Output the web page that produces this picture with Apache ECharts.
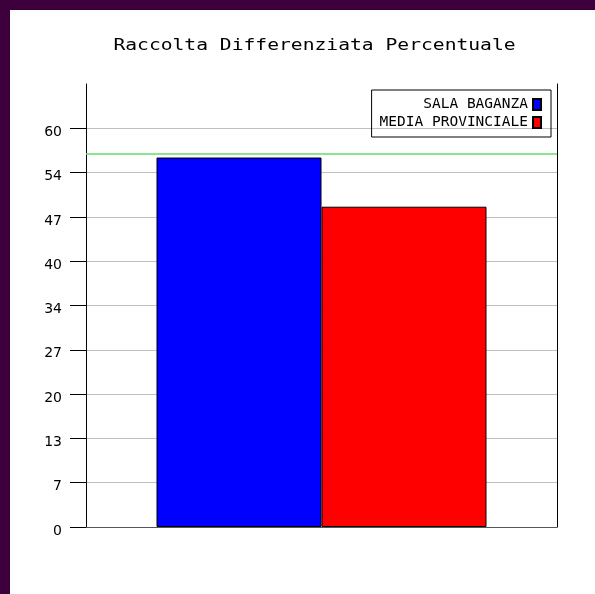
<!DOCTYPE html>
<html>
<head>
<meta charset="utf-8">
<script src="https://cdn.jsdelivr.net/npm/echarts@6/dist/echarts.min.js"></script>
<style>
html,body{margin:0;padding:0;background:#fff;}
#c{width:595px;height:594px;}
</style>
</head>
<body>
<div id="c"></div>
<script>
const titleText = 'Raccolta Differenziata Percentuale';
const categories = [''];
const seriesNames = ['SALA BAGANZA', 'MEDIA PROVINCIALE'];
const salaBaganza = [55.6];
const mediaProvinciale = [48.2];
const targetValue = 56.2;
const yTickLabels = ['0', '7', '13', '20', '27', '34', '40', '47', '54', '60'];
const yStep = 20 / 3;
const yMax = 200 / 3;

const tickValues = yTickLabels.map((_, i) => i * yStep);

const chart = echarts.init(document.getElementById('c'), null, {renderer: 'canvas'});
chart.setOption({
  backgroundColor: '#fff',
  animation: false,
  graphic: [
    {type: 'rect', left: 0, top: 0, shape: {width: 595, height: 10}, style: {fill: '#3d003d'}, z: 100},
    {type: 'rect', left: 0, top: 0, shape: {width: 10, height: 594}, style: {fill: '#3d003d'}, z: 100},
    {type: 'text', x: 314.5, y: 46, scaleX: 1.31, originX: 0, originY: 0,
     style: {text: titleText, font: '15px "DejaVu Sans Mono"', fill: '#000', align: 'center', verticalAlign: 'middle'}}
  ],
  grid: {left: 86, right: 38, top: 84, bottom: 67, containLabel: false},
  legend: {
    orient: 'vertical', align: 'right', right: 44, top: 90,
    itemWidth: 8, itemHeight: 11, itemGap: 3,
    borderColor: '#000', borderWidth: 1, padding: [7, 9, 7, 8],
    icon: 'rect',
    textStyle: {fontFamily: 'DejaVu Sans Mono', fontSize: 14.5, color: '#000'},
    data: seriesNames
  },
  xAxis: {
    type: 'category', data: categories,
    axisLine: {show: true, lineStyle: {color: '#555', width: 1}},
    axisTick: {show: false}, axisLabel: {show: false}, splitLine: {show: false}
  },
  yAxis: [{
    type: 'value', min: 0, max: yMax, interval: yStep,
    axisLine: {show: true, lineStyle: {color: '#000', width: 1}},
    axisTick: {show: true, length: 16, customValues: tickValues, lineStyle: {color: '#000', width: 1}},
    axisLabel: {
      customValues: tickValues, margin: 24, verticalAlign: 'top', lineHeight: 8,
      fontFamily: 'DejaVu Sans', fontSize: 14, color: '#000',
      formatter: function (v) { return yTickLabels[Math.round(v / yStep)]; }
    },
    splitLine: {show: true, lineStyle: {color: '#c0c0c0', width: 1}}
  }, {
    type: 'value', position: 'right', min: 0, max: yMax,
    axisLine: {show: true, lineStyle: {color: '#000', width: 1}},
    axisTick: {show: false}, axisLabel: {show: false}, splitLine: {show: false}
  }],
  series: [{
    name: seriesNames[0], type: 'bar', data: salaBaganza,
    barWidth: 165, barGap: '0%',
    itemStyle: {color: '#0000ff', borderColor: '#000', borderWidth: 1},
    markLine: {
      silent: true, symbol: ['none', 'none'], label: {show: false},
      itemStyle: {color: '#66dd66', borderColor: '#66dd66'},
      lineStyle: {color: '#66dd66', type: 'solid', width: 1.5, opacity: 1},
      data: [{yAxis: targetValue, lineStyle: {color: '#66dd66'}, itemStyle: {color: '#66dd66'}}]
    }
  }, {
    name: seriesNames[1], type: 'bar', data: mediaProvinciale,
    barWidth: 165, barGap: '0%',
    itemStyle: {color: '#ff0000', borderColor: '#000', borderWidth: 1}
  }]
});
</script>
</body>
</html>
